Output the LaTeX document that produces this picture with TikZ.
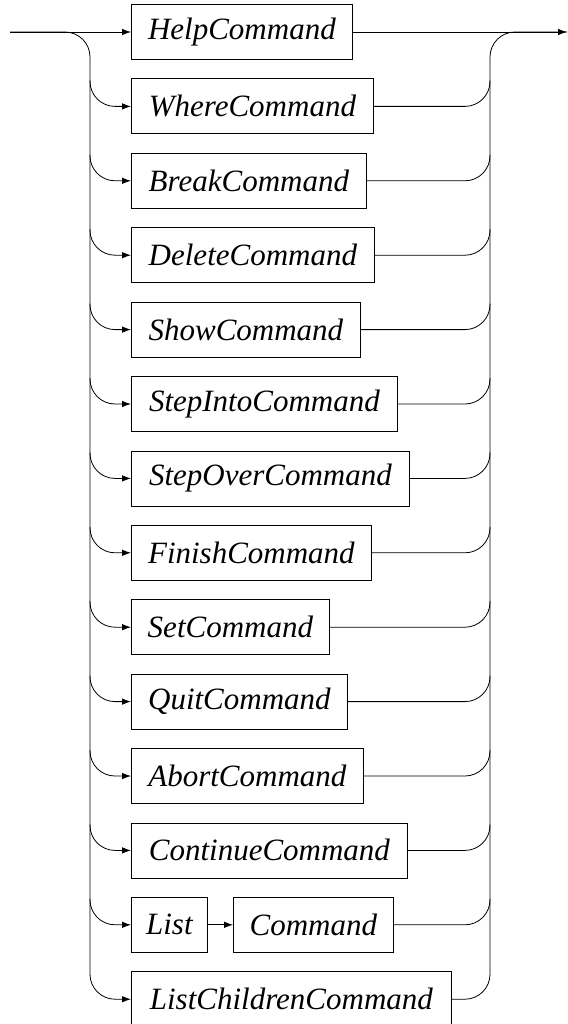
\documentclass[tikz,border=0pt]{standalone}
\usepackage{fontspec}
\setmainfont{Liberation Serif}
\usetikzlibrary{arrows.meta,calc}
\begin{document}
\begin{tikzpicture}[x=1pt,y=-1pt,line width=0.8pt,
  term/.style={draw,anchor=west,inner sep=0pt,minimum height=55pt,align=center,
    font=\itshape\fontsize{31}{31}\selectfont},
  arr/.style={-{Latex[length=9pt,width=6.5pt]}},
  rr/.style={rounded corners=25pt}]
\useasboundingbox (0,0) rectangle (567,1024);
\coordinate (s) at (10,32);
\coordinate (e) at (567,32);
\coordinate (L) at (90,32);
\coordinate (R) at (490,32);
% terminal boxes
\node[term,minimum width=221pt] (n1) at (131,32) {HelpCommand};
\node[term,minimum width=242pt] (n2) at (131,106.4) {WhereCommand};
\node[term,minimum width=235pt] (n3) at (131,180.8) {BreakCommand};
\node[term,minimum width=243pt] (n4) at (131,255.2) {DeleteCommand};
\node[term,minimum width=229pt] (n5) at (131,329.6) {ShowCommand};
\node[term,minimum width=266pt] (n6) at (131,404) {StepIntoCommand};
\node[term,minimum width=278pt] (n7) at (131,478.4) {StepOverCommand};
\node[term,minimum width=240pt] (n8) at (131,552.8) {FinishCommand};
\node[term,minimum width=198pt] (n9) at (131,627.2) {SetCommand};
\node[term,minimum width=216pt] (n10) at (131,701.6) {QuitCommand};
\node[term,minimum width=232pt] (n11) at (131,776) {AbortCommand};
\node[term,minimum width=276pt] (n12) at (131,850.4) {ContinueCommand};
\node[term,minimum width=76pt] (n13a) at (131,924.8) {List};
\node[term,minimum width=160pt] (n13) at (233,924.8) {Command};
\node[term,minimum width=320pt] (n14) at (131,999.2) {ListChildrenCommand};
% main line
\draw[arr] (s) -- (n1.west);
\draw[arr] (n1.east) -- (e);
% left trunk and last branch
\draw[rr,arr] (s) -- (L) |- (n14.west);
% right trunk and last branch
\draw[rr] (n14.east) -| (R) -- (e);
% middle branches
\foreach \n in {n2,n3,n4,n5,n6,n7,n8,n9,n10,n11,n12,n13a}{
  \draw[rr,arr] ($(L|-\n.west)+(0,-26)$) |- (\n.west);
}
\foreach \n in {n2,n3,n4,n5,n6,n7,n8,n9,n10,n11,n12,n13}{
  \draw[rr] (\n.east) -| ($(R|-\n.east)+(0,-26)$);
}
\draw[arr] (n13a.east) -- (n13.west);
\end{tikzpicture}
\end{document}
